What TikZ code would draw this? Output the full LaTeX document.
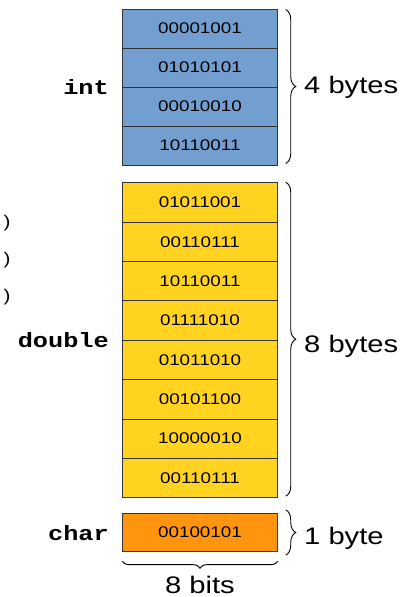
\documentclass[tikz,border=0pt]{standalone}
\usepackage{fontspec}
\setmainfont[FakeStretch=1.22]{Liberation Sans}
\newfontfamily\monobold[FakeStretch=1.22]{Liberation Mono}
\usetikzlibrary{decorations.pathreplacing}
\definecolor{intblue}{HTML}{729FCF}
\definecolor{dblyellow}{HTML}{FFD320}
\definecolor{chorange}{HTML}{FF950E}
\definecolor{edge}{HTML}{333333}
\begin{document}
\begin{tikzpicture}[x=1bp,y=-1bp,
  cell/.style={draw=edge, line width=0.9bp, minimum width=154.6bp, inner sep=0pt,
    font=\fontsize{15.5}{18}\selectfont},
  typelabel/.style={anchor=base east, inner sep=0pt, font=\monobold\bfseries\fontsize{20.8}{24}\selectfont},
  sizelabel/.style={anchor=base west, inner sep=0pt, font=\fontsize{24}{28}\selectfont},
  bracestyle/.style={draw=black, line width=0.9bp, decorate, decoration={brace, amplitude=10bp}},
  paren/.style={inner sep=0pt, font=\fontsize{17}{20}\selectfont}]
\useasboundingbox (0,0) rectangle (412,597);
% int block
\foreach \t [count=\k] in {00001001,01010101,00010010,10110011}{
  \node[cell, fill=intblue, minimum height=39bp] (i\k) at (200,{9+39*(\k-0.5)}) {\t};
}
% double block
\foreach \t [count=\k] in {01011001,00110111,10110011,01111010,01011010,00101100,10000010,00110111}{
  \node[cell, fill=dblyellow, minimum height=39.375bp] (d\k) at (200,{182.7+39.375*(\k-0.5)}) {\t};
}
% char block
\node[cell, fill=chorange, minimum height=38.4bp] (c1) at (200,532.5) {00100101};
% type labels
\node[typelabel] (lint) at (109,95) {int};
\node[typelabel] (ldouble) at (109,347.7) {double};
\node[typelabel] (lchar) at (109,540) {char};
% right braces
\coordinate (bi1) at ([xshift=8bp,yshift=-1bp]i1.north east);
\coordinate (bi2) at ([xshift=8bp,yshift=2bp]i4.south east);
\draw[bracestyle] (bi1) -- (bi2);
\coordinate (bd1) at ([xshift=8bp]d1.north east);
\coordinate (bd2) at ([xshift=8bp,yshift=2bp]d8.south east);
\draw[bracestyle] (bd1) -- (bd2);
\coordinate (bc1) at ([xshift=8bp,yshift=3bp]c1.north east);
\coordinate (bc2) at ([xshift=8bp,yshift=-3bp]c1.south east);
\draw[bracestyle] (bc1) -- (bc2);
% bottom brace
\coordinate (bb1) at ([yshift=-9bp]c1.south east);
\coordinate (bb2) at ([yshift=-9bp]c1.south west);
\draw[bracestyle, decoration={brace, amplitude=7bp}] (bb1) -- (bb2);
% size labels
\node[sizelabel] (s4) at (304,93.5) {4 bytes};
\node[sizelabel] (s8) at (304,352) {8 bytes};
\node[sizelabel] (s1) at (304,544) {1 byte};
\node[anchor=base, inner sep=0pt, font=\fontsize{24}{28}\selectfont] (bits) at (200,593) {8 bits};
% stray parentheses at left edge
\node[paren] (p1) at (7,223) {)};
\node[paren] (p2) at (7,260) {)};
\node[paren] (p3) at (7,297) {)};
\end{tikzpicture}
\end{document}
